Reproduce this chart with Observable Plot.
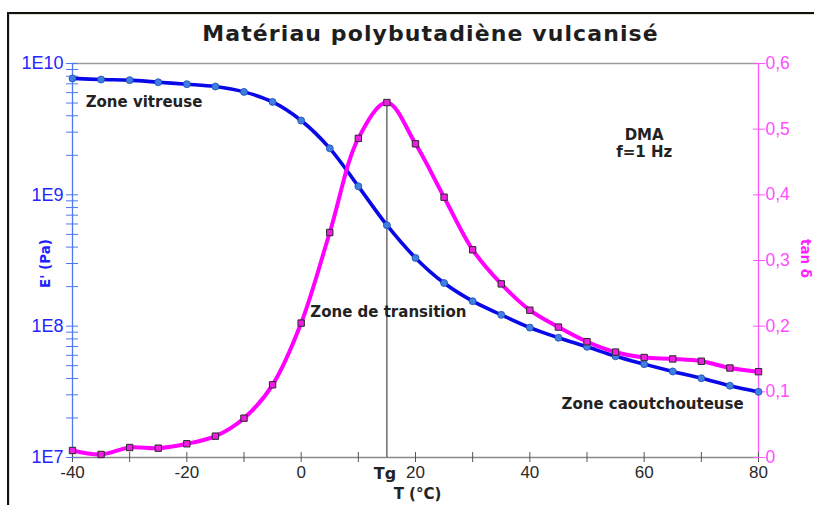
<!DOCTYPE html>
<html><head><meta charset="utf-8">
<script src="https://cdn.jsdelivr.net/npm/d3@7"></script>
<script src="https://cdn.jsdelivr.net/npm/@observablehq/plot@0.6"></script>
<style>
html,body{margin:0;padding:0;background:#fff;width:814px;height:505px;overflow:hidden;}
#wrap{position:relative;width:814px;height:505px;}
#chart svg{position:absolute;left:0;top:0;}
#frame{position:absolute;left:7px;top:12px;width:830px;height:520px;border:2.5px solid #111;box-shadow:inset 1px 1px 0 #e4dfcc;pointer-events:none;}
</style></head>
<body><div id="wrap"><div id="chart"></div><div id="frame"></div></div>
<script>
// Temperature (°C)
const temps = [-40,-35,-30,-25,-20,-15,-10,-5,0,5,10,15,20,25,30,35,40,45,50,55,60,65,70,75,80];
// Storage modulus E' (Pa)
const eModulus = [7.7e9,7.55e9,7.47e9,7.2e9,6.96e9,6.68e9,6.08e9,5.1e9,3.68e9,2.26e9,1.16e9,5.87e8,3.31e8,2.13e8,1.55e8,1.22e8,9.75e7,8.16e7,6.96e7,5.9e7,5.14e7,4.52e7,4.01e7,3.52e7,3.16e7];
// Loss factor tan δ
const tanDelta = [0.0107,0.0046,0.0152,0.0142,0.0209,0.0325,0.0599,0.1107,0.2047,0.3426,0.486,0.5406,0.4777,0.3964,0.3163,0.2644,0.2243,0.1986,0.1763,0.1605,0.1523,0.1501,0.1466,0.1363,0.1307];

const tg = 15;
const xTickValues = [-40,-30,-20,-10,0,10,20,30,40,50,60,70,80];
const xLabelValues = [-40,-20,0,20,40,60,80];
const xLabels = ["-40","-20","0","20","40","60","80"];
const leftDecades = [1e7,1e8,1e9,1e10];
const leftLabels = ["1E7","1E8","1E9","1E10"];
const rightTickValues = [0,0.1,0.2,0.3,0.4,0.5,0.6];
const rightLabels = ["0","0,1","0,2","0,3","0,4","0,5","0,6"];

const title = "Matériau polybutadiène vulcanisé";
const notesStart = [
  {T:-37.7, E:5.16e9, text:"Zone vitreuse"},
  {T:1.6, E:1.30e8, text:"Zone de transition"}
];
const notesEnd = [
  {T:77.4, E:2.59e7, text:"Zone caoutchouteuse"}
];
const notesMiddle = [
  {T:60, E:2.49e9, text:"DMA\nf=1 Hz"}
];

// tan δ (0 … 0.6) mapped onto the log E' axis (1E7 … 1E10)
const toY = t => Math.pow(10, 7 + 5 * t);
const rows = temps.map((T, i) => ({T, E: eModulus[i], tan: tanDelta[i]}));
const tgRow = rows.find(d => d.T === tg);

const leftTicks = [];
for (let k = 0; k < 3; k++) for (let m = 1; m < 10; m++) leftTicks.push(m * leftDecades[k]);
leftTicks.push(leftDecades[3]);

const BOLD = "DejaVu Sans, Verdana, sans-serif";
const REG = "Liberation Sans, Arial, sans-serif";
const noteStyle = {x: "T", y: "E", text: "text", fontFamily: BOLD, fontWeight: "bold", fontSize: 15, fill: "#222", lineHeight: 1.15};

const chart = Plot.plot({
  width: 814, height: 505,
  marginTop: 63, marginBottom: 48, marginLeft: 72, marginRight: 56,
  style: {background: "transparent", fontFamily: REG, fontSize: "17px", overflow: "visible"},
  x: {domain: [-40, 80]},
  y: {type: "log", domain: [1e7, 1e10]},
  marks: [
    Plot.ruleY([1e10], {stroke: "#9a9a9a", strokeWidth: 1.6}),
    Plot.ruleY([1e7], {stroke: "#8a8a8a", strokeWidth: 1.6}),
    Plot.ruleX([-40], {stroke: "#4f78f0", strokeWidth: 1.3}),
    Plot.ruleX([80], {stroke: "#ff55ff", strokeWidth: 1.3}),
    Plot.axisX({anchor: "bottom", ticks: xTickValues, tickSize: 10, dy: -5, tickPadding: 3,
      tickFormat: d => { const i = xLabelValues.indexOf(d); return i < 0 ? "" : xLabels[i]; },
      stroke: "#555", fill: "#2a2a2a", label: null, fontSize: 17}),
    Plot.axisY({anchor: "left", ticks: leftTicks, tickSize: 12, dx: 6, tickPadding: 3,
      tickFormat: d => { const i = leftDecades.findIndex(v => Math.abs(v - d) / v < 1e-9); return i < 0 ? "" : leftLabels[i]; },
      stroke: "#4f78f0", fill: "#2525ff", label: null, fontSize: 18}),
    Plot.axisY({anchor: "right", ticks: rightTickValues.map(toY), tickSize: 12, dx: -6, tickPadding: 1,
      tickFormat: d => rightLabels[Math.round((Math.log10(d) - 7) / 5 * 10)],
      stroke: "#ff55ff", fill: "#ff4dff", label: null, fontSize: 17.5}),
    Plot.ruleX([tgRow], {x: "T", y1: 1e7, y2: d => toY(d.tan), stroke: "#222", strokeWidth: 1}),
    Plot.line(rows, {x: "T", y: "E", stroke: "#0808e8", strokeWidth: 3.6, curve: "catmull-rom"}),
    Plot.dot(rows, {x: "T", y: "E", r: 3.5, fill: "#3f7fe2", stroke: "#1f4db4", strokeWidth: 0.8}),
    Plot.line(rows, {x: "T", y: d => toY(d.tan), stroke: "#ff00ff", strokeWidth: 4, curve: "catmull-rom"}),
    Plot.dot(rows, {x: "T", y: d => toY(d.tan), symbol: "square", r: 3.6, fill: "#ee1fe0", stroke: "#2a2a2a", strokeWidth: 1}),
    Plot.text(notesStart, {...noteStyle, textAnchor: "start"}),
    Plot.text(notesEnd, {...noteStyle, textAnchor: "end"}),
    Plot.text(notesMiddle, {...noteStyle, textAnchor: "middle"}),
    Plot.text([tgRow], {x: "T", frameAnchor: "bottom", dy: 16, dx: -2, lineAnchor: "middle", text: () => "Tg", fontFamily: BOLD, fontWeight: "bold", fontSize: 16, fill: "#222"}),
    Plot.text(["T (°C)"], {frameAnchor: "bottom", dy: 37, dx: 2, lineAnchor: "middle", fontFamily: BOLD, fontWeight: "bold", fontSize: 15, fill: "#222"}),
    Plot.text(["E' (Pa)"], {frameAnchor: "left", dx: -27, dy: 3, rotate: -90, textAnchor: "middle", lineAnchor: "middle", fontFamily: BOLD, fontWeight: "bold", fontSize: 13.5, fill: "#2020ff"}),
    Plot.text(["tan δ"], {frameAnchor: "right", dx: 47, dy: -2, rotate: 90, textAnchor: "middle", lineAnchor: "middle", fontFamily: BOLD, fontWeight: "bold", fontSize: 13.5, fill: "#ff22ff"}),
    Plot.text([title], {frameAnchor: "top", dy: -30, dx: 15, lineAnchor: "middle", fontFamily: BOLD, fontWeight: "bold", fontSize: 22, fill: "#1e1e1e"})
  ]
});
d3.select(chart).selectAll("text").filter(function() { return this.textContent === title; })
  .style("letter-spacing", "1.1px").attr("letter-spacing", "1.1");
document.getElementById("chart").appendChild(chart);
</script>
</body></html>
